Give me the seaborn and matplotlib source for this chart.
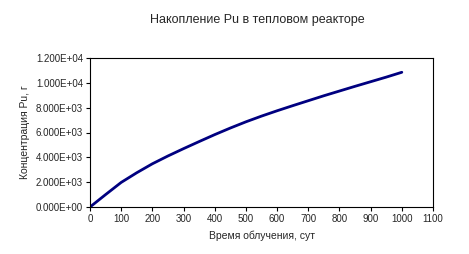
import matplotlib
matplotlib.use("Agg")
import matplotlib.pyplot as plt
import seaborn as sns
import pandas as pd
from matplotlib.ticker import FuncFormatter, MultipleLocator

time_days = [0, 50, 100, 150, 200, 250, 300, 350, 400, 450, 500,
             550, 600, 650, 700, 750, 800, 850, 900, 950, 1000]
pu_mass = [0, 1000, 1980, 2760, 3480, 4110, 4700, 5270, 5830, 6360, 6860,
           7320, 7750, 8160, 8560, 8960, 9340, 9720, 10090, 10460, 10850]

title = "Накопление Pu в тепловом реакторе"
xlabel = "Время облучения, сут"
ylabel = "Концентрация Pu, г"

sns.set_theme(style="white")
plt.rcParams['font.family'] = ['Liberation Sans', 'DejaVu Sans']

df = pd.DataFrame({"t": time_days, "m": pu_mass})

fig = plt.figure(figsize=(4.69, 2.54), dpi=100)
ax = fig.add_axes([90/469, 1-207/254, (433-90)/469, (207-58)/254])
sns.lineplot(data=df, x="t", y="m", ax=ax, color="#000080", linewidth=2.0)

ax.set_xlim(0, 1100)
ax.set_ylim(0, 12000)
ax.xaxis.set_major_locator(MultipleLocator(100))
ax.yaxis.set_major_locator(MultipleLocator(2000))
ax.yaxis.set_major_formatter(FuncFormatter(lambda v, p: f"{v:.3E}"))
ax.tick_params(axis="both", direction="out", length=3, width=0.8, labelsize=7,
               color="black", pad=2, bottom=True, left=True)
for s in ax.spines.values():
    s.set_color("black")
    s.set_linewidth(0.8)

ax.set_xlabel(xlabel, fontsize=7.5, labelpad=5)
ax.set_ylabel(ylabel, fontsize=7.5, labelpad=4)
fig.text(257/469, 1-20/254, title, ha="center", va="center", fontsize=9)

fig.savefig("out.png", dpi=100)
